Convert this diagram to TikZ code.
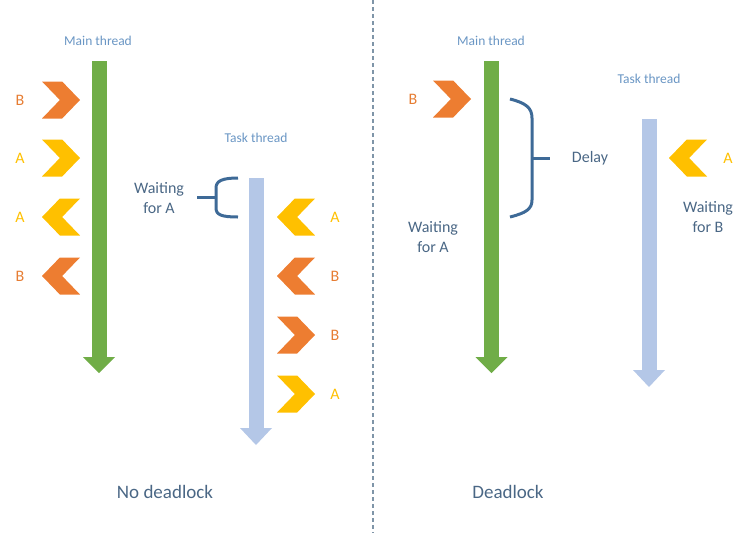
\documentclass[tikz,border=0pt]{standalone}
\usepackage{fontspec}
\setmainfont{Carlito}
\usetikzlibrary{positioning,shapes.symbols,arrows.meta}

\definecolor{chOrange}{HTML}{ED7D31}
\definecolor{chYellow}{HTML}{FFC000}
\definecolor{mainGreen}{HTML}{70AD47}
\definecolor{taskBlue}{HTML}{B4C7E7}
\definecolor{braceBlue}{HTML}{3E6A97}
\definecolor{headBlue}{HTML}{6A96C4}
\definecolor{textBlue}{HTML}{4A6785}
\definecolor{splitGray}{HTML}{7F95A8}

\begin{document}
\begin{tikzpicture}[
x=1pt, y=-1pt,
chev/.style={
signal,
signal pointer angle=92,
minimum width=38pt,
minimum height=37pt,
inner sep=0pt
},
chevR/.style={chev, signal from=west, signal to=east},
chevL/.style={chev, signal from=east, signal to=west},
lblA/.style={text=chYellow, font=\fontsize{16}{18}\selectfont},
lblB/.style={text=chOrange!85!brown, font=\fontsize{16}{18}\selectfont},
threadname/.style={text=headBlue, font=\fontsize{13.5}{15}\selectfont},
note/.style={text=textBlue, align=center, font=\fontsize{16}{20}\selectfont},
caption/.style={text=textBlue, font=\fontsize{19}{22}\selectfont},
mainbar/.style={draw=mainGreen, line width=15pt,
  -{Triangle[width=32pt,length=16pt,line width=0pt]}},
taskbar/.style={draw=taskBlue, line width=15pt,
  -{Triangle[width=32pt,length=17pt,line width=0pt]}},
brace/.style={draw=braceBlue, line width=3pt}
]

\useasboundingbox (0,0) rectangle (748,533);

% separator
\draw[splitGray, line width=1.5pt, dash pattern=on 4pt off 3pt] (373,0) -- (373,533);

%%% No deadlock

\node[threadname] (mainL) at (98,41) {Main thread};
\coordinate (mainLtop) at (99,61);
\coordinate (mainLend) at (99,373);
\draw[mainbar] (mainLtop) -- (mainLend);

\node[chevR, fill=chOrange] (l1) at (61,100) {};
\node[chevR, fill=chYellow] (l2) at (61,158) {};
\node[chevL, fill=chYellow] (l3) at (61,217) {};
\node[chevL, fill=chOrange] (l4) at (61,276) {};
\node[lblB] at (20,100) {B};
\node[lblA] at (20,158) {A};
\node[lblA] at (20,217) {A};
\node[lblB] at (20,276) {B};

\node[threadname] (taskL) at (256,138) {Task thread};
\coordinate (taskLtop) at (256,178);
\coordinate (taskLend) at (256,445);
\draw[taskbar] (taskLtop) -- (taskLend);

\node[chevL, fill=chYellow] (r1) at (296,217) {};
\node[chevL, fill=chOrange] (r2) at (296,276) {};
\node[chevR, fill=chOrange] (r3) at (296,335) {};
\node[chevR, fill=chYellow] (r4) at (296,394) {};
\node[lblA] at (335,217) {A};
\node[lblB] at (335,276) {B};
\node[lblB] at (335,335) {B};
\node[lblA] at (335,394) {A};

\node[note] (waitL) at (159,198) {Waiting\\for A};
\draw[brace] (238,178) .. controls (222,178) and (216,181) .. (216,188)
  -- (216,208) .. controls (216,215) and (222,217) .. (238,217);
\draw[brace] (216,197) -- (197,197);

\node[caption] (noDL) at (165,492) {No deadlock};

%%% Deadlock

\node[threadname] (mainR) at (491,41) {Main thread};
\coordinate (mainRtop) at (491.5,61);
\coordinate (mainRend) at (491.5,373);
\draw[mainbar] (mainRtop) -- (mainRend);

\node[chevR, fill=chOrange] (d1) at (452,99) {};
\node[lblB] at (413,99) {B};

\draw[brace] (510,99) .. controls (526,103) and (532,108) .. (532,118)
  -- (532,200) .. controls (532,209) and (526,213) .. (510,217);
\draw[brace] (532,158) -- (550,158);
\node[note] (delay) at (590,158) {Delay};

\node[note] (waitA) at (433,237) {Waiting\\for A};

\node[threadname] (taskR) at (649,79) {Task thread};
\coordinate (taskRtop) at (649,119);
\coordinate (taskRend) at (649,387);
\draw[taskbar] (taskRtop) -- (taskRend);

\node[chevL, fill=chYellow] (d2) at (688,158) {};
\node[lblA] at (728,158) {A};

\node[note] (waitB) at (708,217) {Waiting\\for B};

\node[caption] (DL) at (508,492) {Deadlock};

\end{tikzpicture}
\end{document}
